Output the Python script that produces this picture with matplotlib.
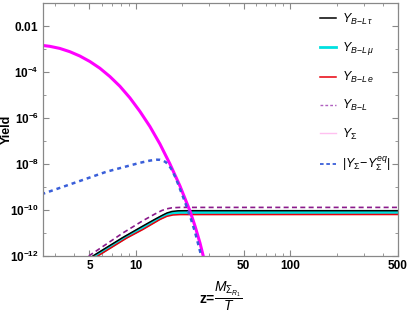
import matplotlib
matplotlib.use("Agg")
import matplotlib.pyplot as plt
from matplotlib.lines import Line2D
from matplotlib.ticker import FixedLocator, NullFormatter
import numpy as np

plt.rcParams['font.family'] = ['Liberation Sans', 'DejaVu Sans']
plt.rcParams['mathtext.fontset'] = 'custom'
plt.rcParams['mathtext.rm'] = 'Liberation Sans'
plt.rcParams['mathtext.it'] = 'Liberation Sans:italic'
plt.rcParams['mathtext.bf'] = 'Liberation Sans:bold'

# values: z and log10(yield)
z_sig = [2.44, 2.765, 3.21, 3.73, 4.33, 5.03, 5.84, 6.78, 7.87, 9.14, 10.62, 12.33,
         14.32, 16.63, 19.31, 22.42, 24.16, 26.03, 27.23, 28.48]
lg_sig = [-2.839, -2.883, -2.974, -3.117, -3.304, -3.543, -3.835, -4.196, -4.617, -5.122,
          -5.713, -6.370, -7.130, -8.0, -8.957, -10.043, -10.696, -11.435, -11.957, -12.5]

z_dif = [2.44, 3.92, 6.45, 9.14, 10.62, 12.33, 13.69, 14.32, 14.97, 15.66, 16.38,
         17.13, 18.19, 19.31, 20.81, 22.42, 24.16, 26.03, 26.83]
lg_dif = [-9.317, -8.839, -8.335, -8.065, -7.948, -7.852, -7.813, -7.817, -7.848, -7.926,
          -8.065, -8.261, -8.630, -9.087, -9.652, -10.261, -10.957, -11.783, -12.130]

z_bl = [4.95, 8.23, 11.10, 13.28, 14.75, 15.9, 17.13, 19.31, 500]
lg_bl = [-12.0, -11.0, -10.465, -10.174, -10.02, -9.948, -9.904, -9.887, -9.887]

z_tau = [5.26, 8.23, 11.10, 13.28, 14.75, 15.9, 17.13, 18.74, 20.81, 500]
lg_tau = [-12.0, -11.196, -10.696, -10.404, -10.239, -10.13, -10.065, -10.035, -10.03, -10.03]

z_mu = [5.46, 8.48, 11.10, 14.32, 15.66, 17.13, 19.31, 500]
lg_mu = [-12.0, -11.204, -10.774, -10.348, -10.217, -10.139, -10.113, -10.109]

z_e = [5.66, 8.74, 11.10, 14.32, 15.9, 17.39, 19.31, 500]
lg_e = [-12.0, -11.217, -10.848, -10.413, -10.274, -10.217, -10.2, -10.196]

xmaj = [5, 10, 50, 100, 500]
xmin_ = [3, 4, 6, 7, 8, 9, 20, 30, 40, 60, 70, 80, 90, 200, 300, 400]
ymaj = [1e-2, 1e-4, 1e-6, 1e-8, 1e-10, 1e-12]
ylab = [r'$\mathbf{0.01}$', r'$\mathbf{10^{-4}}$', r'$\mathbf{10^{-6}}$',
        r'$\mathbf{10^{-8}}$', r'$\mathbf{10^{-10}}$', r'$\mathbf{10^{-12}}$']
ymin_ = [1e-1, 1e-3, 1e-5, 1e-7, 1e-9, 1e-11]

fig = plt.figure(figsize=(4.09, 3.16), dpi=100)
ax = fig.add_axes([43/409, 1-256/316, 355/409, 253/316])

ax.plot(z_mu, 10**np.array(lg_mu), color='#00e0e0', lw=2.6, solid_capstyle='butt')
ax.plot(z_e, 10**np.array(lg_e), color='#e8000b', lw=1.1)
ax.plot(z_tau, 10**np.array(lg_tau), color='black', lw=1.1)
ax.plot(z_bl, 10**np.array(lg_bl), color='#8b1a8b', lw=1.2, ls=(0, (3, 2)))
ax.plot(z_sig, 10**np.array(lg_sig), color='#ff00ff', lw=2.2)
ax.plot(z_dif, 10**np.array(lg_dif), color='#3a5fd9', lw=1.8, ls=(0, (1.6, 1.6)))

ax.set_xscale('log')
ax.set_yscale('log')
ax.set_xlim(2.5, 500)
ax.set_ylim(1e-12, 1e-1)

ax.xaxis.set_major_locator(FixedLocator(xmaj))
ax.xaxis.set_minor_locator(FixedLocator(xmin_))
ax.set_xticklabels([str(v) for v in xmaj], fontweight='bold')
ax.xaxis.set_minor_formatter(NullFormatter())
ax.yaxis.set_major_locator(FixedLocator(ymaj))
ax.yaxis.set_minor_locator(FixedLocator(ymin_))
ax.set_yticklabels(ylab)
ax.yaxis.set_minor_formatter(NullFormatter())

ax.tick_params(which='both', direction='in', top=True, right=True, color='#888888',
               labelsize=8.5, pad=3)
ax.tick_params(which='major', length=4, width=0.8)
ax.tick_params(which='minor', length=2.5, width=0.6)
for s in ax.spines.values():
    s.set_color('#888888')
    s.set_linewidth(0.9)

ax.set_ylabel('Yield', fontweight='bold', fontsize=9)
ax.yaxis.set_label_coords(-0.085, 0.5)
ax.set_xlabel(r'z=$\dfrac{M_{\Sigma_{R_1}}}{T}$', fontweight='bold', fontsize=10, labelpad=5)

handles = [
    Line2D([], [], color='black', lw=1.1),
    Line2D([], [], color='#00e0e0', lw=2.0),
    Line2D([], [], color='#e8000b', lw=1.1),
    Line2D([], [], color='#b060c0', lw=1.0, ls=(0, (2, 1.5))),
    Line2D([], [], color='#ffc0f0', lw=1.0),
    Line2D([], [], color='#3a5fd9', lw=1.3, ls=(0, (2, 1.5))),
]
labels = [r'$Y_{B\!-\!L\,\tau}$', r'$Y_{B\!-\!L\,\mu}$', r'$Y_{B\!-\!L\,e}$',
          r'$Y_{B\!-\!L}$', r'$Y_{\Sigma}$', r'$|Y_{\Sigma}\!-\!Y_{\Sigma}^{eq}|$']
ax.legend(handles, labels, loc='upper left', bbox_to_anchor=(0.765, 0.985),
          frameon=False, fontsize=9, handlelength=1.3, labelspacing=1.05,
          handletextpad=0.5, borderaxespad=0)

fig.savefig('out.png', dpi=100)
